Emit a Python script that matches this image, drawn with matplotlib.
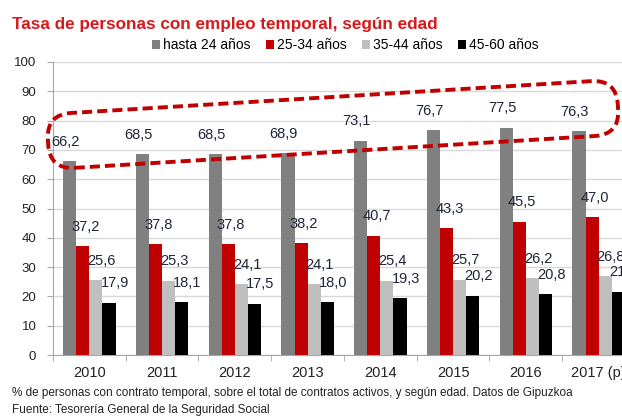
import matplotlib
matplotlib.use('Agg')
import matplotlib.pyplot as plt
import numpy as np
from matplotlib.patches import Patch, FancyBboxPatch
from matplotlib.transforms import Affine2D

plt.rcParams['font.family'] = ['Liberation Sans', 'DejaVu Sans']

years = ['2010', '2011', '2012', '2013', '2014', '2015', '2016', '2017 (p)']
grupos = ['hasta 24 años', '25-34 años', '35-44 años', '45-60 años']
hasta24 = [66.2, 68.5, 68.5, 68.9, 73.1, 76.7, 77.5, 76.3]
a25_34 = [37.2, 37.8, 37.8, 38.2, 40.7, 43.3, 45.5, 47.0]
a35_44 = [25.6, 25.3, 24.1, 24.1, 25.4, 25.7, 26.2, 26.8]
a45_60 = [17.9, 18.1, 17.5, 18.0, 19.3, 20.2, 20.8, 21.6]
series = [hasta24, a25_34, a35_44, a45_60]
colores = ['#808080', '#c00000', '#bfbfbf', '#000000']
dx_lab = [-3, 2, 4, 4]

fig = plt.figure(figsize=(6.22, 4.18), dpi=100)
ax = fig.add_axes([53/622, 63/418, 582/622, 293/418])

x = np.arange(len(years))
w = 0.18
for i, (vals, c) in enumerate(zip(series, colores)):
    xs = x + (i - 1.5) * w
    ax.bar(xs, vals, w, color=c, zorder=3)
    for xi, v in zip(xs, vals):
        ax.annotate(('%.1f' % v).replace('.', ','), (xi, v), xytext=(dx_lab[i], 14),
                    textcoords='offset points', ha='center', va='center',
                    fontsize=10.5, color='#1e2538', zorder=5)

ax.set_xlim(-0.5, 7.5)
ax.set_ylim(0, 100)
ax.set_yticks(range(0, 101, 10))
ax.yaxis.grid(True, color='#d9d9d9', lw=1, zorder=0)
ax.set_axisbelow(True)
ax.set_xticks(x)
ax.set_xticklabels(years, fontsize=10.5, color='#222222')
ax.set_xticks(np.arange(-0.5, 8, 1), minor=True)
ax.tick_params(axis='x', which='major', length=0, pad=8)
ax.tick_params(axis='x', which='minor', length=4, color='#a6a6a6', direction='out')
ax.tick_params(axis='y', length=4, color='#a6a6a6', labelsize=9.5, labelcolor='#222222', pad=8)
for s in ['top', 'right']:
    ax.spines[s].set_visible(False)
for s in ['left', 'bottom']:
    ax.spines[s].set_color('#a6a6a6')

# óvalo discontinuo rojo
caja = FancyBboxPatch((-2.855, -0.275), 5.71, 0.55,
                      boxstyle='round,pad=0,rounding_size=0.25',
                      fill=False, edgecolor='#c00000', lw=2.8,
                      linestyle=(0, (2.6, 1.3)),
                      transform=Affine2D().rotate_deg(3.5).translate(3.33, 2.935) + fig.dpi_scale_trans,
                      zorder=10)
fig.patches.append(caja)

handles = [Patch(facecolor=c, edgecolor='none') for c in colores]
fig.legend(handles, grupos, loc='center', bbox_to_anchor=(345/622, 1 - 45/418), ncol=4,
           frameon=False, fontsize=10, handlelength=0.6, handleheight=0.6,
           handletextpad=0.2, columnspacing=1.1)

fig.text(12/622, 1 - 24/418, 'Tasa de personas con empleo temporal, según edad',
         fontsize=12.3, fontweight='bold', color='#d7191c', va='center', ha='left')
fig.text(12/622, 1 - 393/418,
         '% de personas con contrato temporal, sobre el total de contratos activos, y según edad. Datos de Gipuzkoa',
         fontsize=8.5, color='#222222', va='center', ha='left')
fig.text(12/622, 1 - 410/418, 'Fuente: Tesorería General de la Seguridad Social',
         fontsize=8.5, color='#222222', va='center', ha='left')

fig.savefig('out.png', dpi=100)
